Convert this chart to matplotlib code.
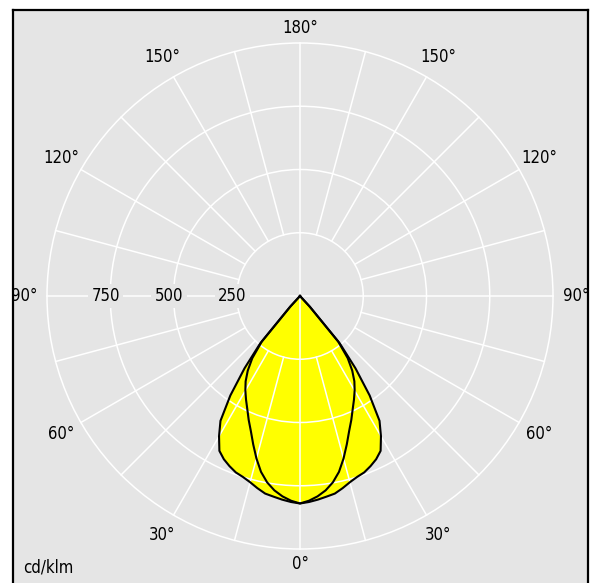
"""Polar luminous intensity diagram (cd/klm), C0-C180 and C90-C270 planes."""

import matplotlib
matplotlib.use("Agg")
import matplotlib.pyplot as plt
import numpy as np
from matplotlib.patches import Circle, Polygon

plt.rcParams["font.family"] = ["DejaVu Sans"]
plt.rcParams["font.stretch"] = "condensed"

# gamma angle from nadir (deg) and intensity (cd/klm)
GAMMA = [0, 2.5, 5, 7.5, 10, 12.5, 15, 17.5, 20, 22.5, 25, 27.5, 30,
         32.5, 35, 37.5, 40, 42.5, 45]
PLANE_C0 = [820, 815, 808, 800, 793, 778, 762, 750, 742, 728, 712, 690, 640,
            585, 480, 360, 245, 60, 0]
PLANE_C90 = [820, 810, 795, 775, 748, 712, 665, 615, 568, 530, 493, 462, 432,
             400, 360, 310, 235, 55, 0]

RINGS = [250, 500, 750, 1000]
RING_LABELS = ["250", "500", "750"]
ANGLE_TICKS = [0, 30, 60, 90, 120, 150, 180]

BG = "#e5e5e5"
FILL = "#ffff00"


def _xy(gamma, r):
    """Mirror a symmetric curve to both half-planes, nadir pointing down."""
    g = np.radians(np.asarray(gamma, float))
    r = np.asarray(r, float)
    th = np.concatenate([-g[::-1], g])
    rr = np.concatenate([r[::-1], r])
    return rr * np.sin(th), -rr * np.cos(th)


def main() -> None:
    W, H = 597, 583
    fig = plt.figure(figsize=(W / 100, H / 100), dpi=100)
    # frame in pixels, polar centre at (300, 296), 1000 cd/klm = 253 px
    left, right, top, bottom = 13, 588, 10, 583
    cx, cy, s = 300, 296, 1000 / 253
    ax = fig.add_axes([left / W, 1 - bottom / H, (right - left) / W, (bottom - top) / H])
    ax.set_xlim((left - cx) * s, (right - cx) * s)
    ax.set_ylim((cy - bottom) * s, (cy - top) * s)
    ax.set_facecolor(BG)
    ax.set_xticks([])
    ax.set_yticks([])
    for side in ("left", "right", "top"):
        ax.spines[side].set_linewidth(1.6)
    ax.spines["bottom"].set_visible(False)

    # light distribution, filled under the grid
    for vals in (PLANE_C0, PLANE_C90):
        x, y = _xy(GAMMA, vals)
        ax.add_patch(Polygon(np.column_stack([x, y]), closed=True, fc=FILL, ec="none", zorder=1))

    # grid
    gw = 1.1
    for r in RINGS:
        ax.add_patch(Circle((0, 0), r, fill=False, ec="white", lw=gw, zorder=2))
    rmax = RINGS[-1]
    for a in range(0, 360, 15):
        t = np.radians(a)
        r0 = -rmax if a % 90 == 0 else RINGS[0]
        if a % 90 == 0 and a >= 180:
            continue
        ax.plot([r0 * np.sin(t), rmax * np.sin(t)], [-r0 * np.cos(t), -rmax * np.cos(t)],
                color="white", lw=gw, zorder=2)

    for x, y in (_xy(GAMMA, PLANE_C0), _xy(GAMMA, PLANE_C90)):
        ax.plot(x, y, color="black", lw=1.5, zorder=3, solid_joinstyle="round")

    # labels
    fs = 12
    for r, lab in zip(RINGS, RING_LABELS):
        ax.text(-(r + 18), 0, lab, ha="center", va="center", fontsize=fs, zorder=4,
                bbox=dict(boxstyle="square,pad=0.2", fc=BG, ec="none"))
    for a in ANGLE_TICKS:
        rl = 1060 if a in (0, 180) else 1090
        t = np.radians(a)
        for sgn in ((1,) if a in (0, 180) else (1, -1)):
            ax.text(sgn * rl * np.sin(t), -rl * np.cos(t), f"{a}°",
                    ha="center", va="center", fontsize=fs, zorder=4)
    ax.text((23 - cx) * s, (cy - 567) * s, "cd/klm", ha="left", va="center", fontsize=fs)

    fig.savefig("out.png", dpi=100)


if __name__ == "__main__":
    main()
